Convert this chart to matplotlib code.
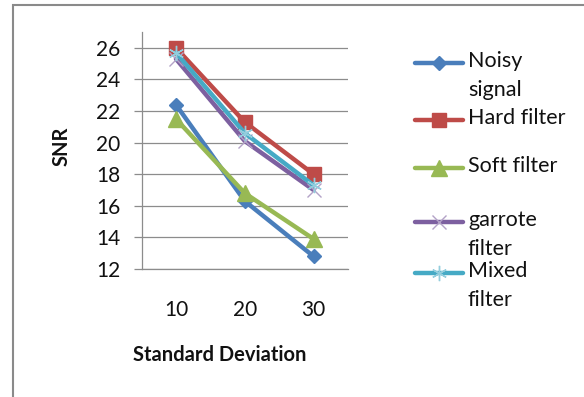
import matplotlib
matplotlib.use("Agg")
import matplotlib.pyplot as plt
from matplotlib.lines import Line2D
from matplotlib.patches import Rectangle

# chart data
std_dev = ["10", "20", "30"]
noisy = [22.4, 16.3, 12.8]
hard = [26.0, 21.3, 18.0]
soft = [21.5, 16.8, 13.9]
garrote = [25.3, 20.1, 17.0]
mixed = [25.7, 20.6, 17.3]

series_names = ["Noisy\nsignal", "Hard filter", "Soft filter", "garrote\nfilter", "Mixed\nfilter"]
series_data = [noisy, hard, soft, garrote, mixed]

# styles (line colour, marker, marker size, marker face, marker edge, edge width)
styles = [
    dict(color="#4A7EBB", marker="D", markersize=7.5, mfc="#4A7EBB", mec="#4A7EBB", mew=1),
    dict(color="#BE4B48", marker="s", markersize=10.5, mfc="#BE4B48", mec="#BE4B48", mew=1),
    dict(color="#98B954", marker="^", markersize=11, mfc="#98B954", mec="#98B954", mew=1),
    dict(color="#7D60A0", marker="x", markersize=10, mfc="none", mec="#B3A2C7", mew=1),
    dict(color="#46AAC5", marker=(6, 2, 0), markersize=11, mfc="none", mec="#93CDDD", mew=1),
]

plt.rcParams['font.family'] = ['Lato', 'DejaVu Sans']
W, H = 584, 397
fig = plt.figure(figsize=(W / 100, H / 100), dpi=100)

# outer chart border (runs off the right / bottom edge)
fig.patches.append(Rectangle((13 / W, -0.1), 1.2, 1 - 5 / H + 0.1, transform=fig.transFigure,
                             fill=False, edgecolor="#8a8a8a", linewidth=1.5))

ax = fig.add_axes([141.5 / W, 1 - 269 / H, 206.5 / W, 237 / H])
x = list(range(len(std_dev)))
for data, st in zip(series_data, styles):
    ax.plot(x, data, linewidth=3.2, solid_capstyle="round", **st)

ax.set_xlim(-0.5, len(std_dev) - 0.5)
ax.set_ylim(12, 27)
ax.set_yticks(range(12, 27, 2))
ax.set_xticks(x)
ax.set_xticklabels(std_dev)
ax.yaxis.grid(True, color="#8c8c8c", linewidth=0.9)
ax.set_axisbelow(True)
for s in ["top", "right"]:
    ax.spines[s].set_visible(False)
for s in ["left", "bottom"]:
    ax.spines[s].set_color("#8c8c8c")
    ax.spines[s].set_linewidth(0.9)
ax.tick_params(axis="y", direction="out", length=6, width=0.9, color="#8c8c8c",
               pad=9, labelsize=15, labelcolor="#111111")
ax.tick_params(axis="x", length=0, pad=22, labelsize=15, labelcolor="#111111")

ax.set_xlabel("Standard Deviation", fontsize=14.5, fontweight="bold", color="#111111")
ax.xaxis.set_label_coords((220 - 141.5) / 206.5, (269 - 355) / 237)
ax.xaxis.label.set_va("center")
ax.set_ylabel("SNR", fontsize=14.5, fontweight="bold", color="#111111")
ax.yaxis.set_label_coords((62 - 141.5) / 206.5, (269 - 146) / 237)
ax.yaxis.label.set_va("center")

# legend drawn by hand to copy the wrapped entries
legend_rows = [62.7, 120, 167.7, 221.7, 273.3]
for name, st, row in zip(series_names, styles, legend_rows):
    yf = 1 - row / H
    fig.lines.append(Line2D([415 / W, 463 / W], [yf, yf], transform=fig.transFigure,
                            linewidth=3.2, color=st["color"], solid_capstyle="round"))
    fig.lines.append(Line2D([439 / W], [yf], transform=fig.transFigure, linestyle="none",
                            marker=st["marker"], markersize=st["markersize"],
                            mfc=st["mfc"], mec=st["mec"], mew=st["mew"]))
    for i, part in enumerate(name.split("\n")):
        fig.text(468 / W, 1 - (row - 2 + i * 29) / H, part, fontsize=15.5,
                 color="#111111", va="center", ha="left")

fig.savefig("out.png", dpi=100)
